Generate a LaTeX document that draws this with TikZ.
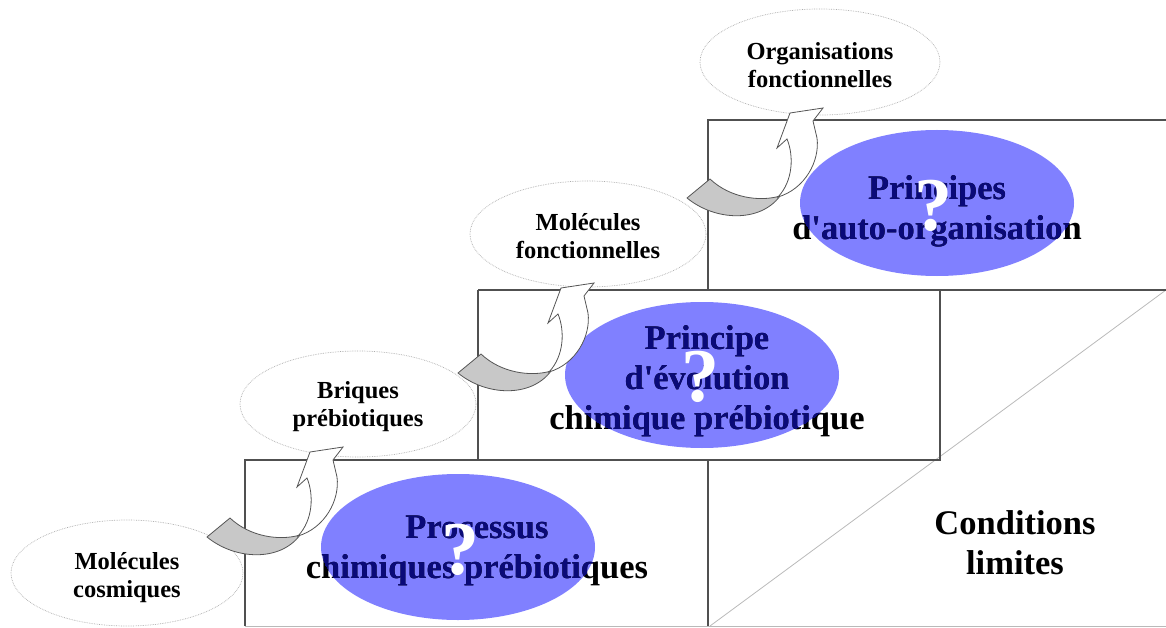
\documentclass[tikz,border=0pt]{standalone}
\usepackage{fontspec}
\setmainfont{Liberation Serif}
\usetikzlibrary{shapes.geometric}
\definecolor{boxline}{RGB}{80,80,80}
\definecolor{lightline}{RGB}{185,185,185}
\definecolor{ellblue}{RGB}{128,128,255}
\definecolor{navytxt}{RGB}{10,10,120}
\definecolor{arrgray}{RGB}{200,200,200}
\definecolor{arrline}{RGB}{85,85,85}
\begin{document}
\begin{tikzpicture}[x=1pt,y=-1pt,
  boxln/.style={draw=boxline, line width=1.4pt},
  lightln/.style={draw=lightline, line width=0.8pt},
  smallell/.style={ellipse, draw=gray!65, densely dotted, line width=0.7pt, fill=white,
     minimum width=236pt, minimum height=106pt, inner sep=0pt},
  smalltxt/.style={align=center, inner sep=0pt, font=\fontsize{24.5}{28}\selectfont\bfseries},
  blueell/.style={ellipse, fill=ellblue, draw=none, minimum width=274pt, minimum height=146pt, inner sep=0pt},
  bigtxt/.style={align=center, font=\fontsize{34.5}{40}\selectfont\bfseries, inner sep=0pt},
  qmark/.style={text=white, font=\fontsize{76}{76}\selectfont\bfseries, inner sep=0pt},
  grayband/.style={fill=arrgray, draw=arrline, line width=0.8pt, line join=round},
  whitehorn/.style={fill=white, draw=arrline, line width=0.8pt, line join=miter},
  curvarrow/.pic={
    \path[grayband] (207,537) .. controls (235,560) and (280,562) .. (300,535)
       .. controls (280,541) and (250,537) .. (230,518) -- cycle;
    \path[whitehorn] (298,536) .. controls (325,528) and (340,500) .. (337,477)
       -- (333,460) -- (343,447) -- (310,452) -- (297,487) -- (307,478)
       .. controls (314,495) and (313,520) .. (298,536) -- cycle;
  }
]
\useasboundingbox (0,0) rectangle (1166,628);

% steps
\draw[lightln] (245,626) -- (1166,626);
\draw[lightln] (710,626) -- (1166,290);
\draw[boxln] (478,290) -- (1166,290);
\draw[boxln] (708,290) -- (708,120) -- (1166,120);
\draw[boxln] (245,626) -- (245,460) -- (940,460) -- (940,290);
\draw[boxln] (478,460) -- (478,290);
\draw[boxln] (708,460) -- (708,626);

% blue ellipses with two-coloured text
\node[blueell] (e1) at (458,547) {};
\node[bigtxt] (t1) at (477,551) {Processus\\chimiques prébiotiques};
\begin{scope}
  \clip (458,547) ellipse (137pt and 73pt);
  \node[bigtxt, text=navytxt] (t1b) at (477,551) {Processus\\chimiques prébiotiques};
\end{scope}
\node[qmark] (q1) at (460,550) {?};

\node[blueell] (e2) at (702,375) {};
\node[bigtxt] (t2) at (707,381) {Principe\\d\textquotesingle évolution\\chimique prébiotique};
\begin{scope}
  \clip (702,375) ellipse (137pt and 73pt);
  \node[bigtxt, text=navytxt] (t2b) at (707,381) {Principe\\d\textquotesingle évolution\\chimique prébiotique};
\end{scope}
\node[qmark] (q2) at (700,377) {?};

\node[blueell] (e3) at (937,203) {};
\node[bigtxt] (t3) at (937,211) {Principes\\d\textquotesingle auto-organisation};
\begin{scope}
  \clip (937,203) ellipse (137pt and 74pt);
  \node[bigtxt, text=navytxt] (t3b) at (937,211) {Principes\\d\textquotesingle auto-organisation};
\end{scope}
\node[qmark] (q3) at (933,206) {?};

\node[bigtxt] (cl) at (1015,543) {Conditions\\limites};

% small ellipses
\node[smallell, minimum width=232pt] (m1) at (127,573) {};
\node[smalltxt] (m1t) at (127,578) {Molécules\\cosmiques};
\node[smallell] (m2) at (358,404) {};
\node[smalltxt] (m2t) at (358,407) {Briques\\prébiotiques};
\node[smallell] (m3) at (588,234) {};
\node[smalltxt] (m3t) at (588,236) {Molécules\\fonctionnelles};
\node[smallell, minimum width=240pt] (m4) at (820,62) {};
\node[smalltxt] (m4t) at (820,65) {Organisations\\fonctionnelles};

% curved arrows
\pic (a1) at (0,0) {curvarrow};
\pic (a2) at (251,-164) {curvarrow};
\pic (a3) at (480,-339) {curvarrow};
\end{tikzpicture}
\end{document}
